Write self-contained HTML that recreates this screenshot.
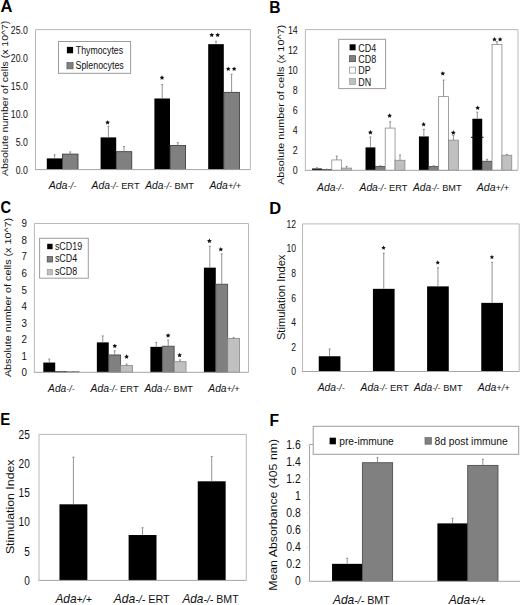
<!DOCTYPE html>
<html><head><meta charset="utf-8"><style>
html,body{margin:0;padding:0;background:#fff;width:520px;height:605px;overflow:hidden}
svg{display:block;font-family:"Liberation Sans", sans-serif}
</style></head><body>
<svg width="520" height="605" viewBox="0 0 520 605">
<rect width="520" height="605" fill="#fff"/>
<text x="0.59" y="12.2" font-size="17.2" text-anchor="start" font-weight="bold" font-style="normal" fill="#000" textLength="11.99" lengthAdjust="spacingAndGlyphs">A</text>
<path d="M35.5,169.6 V29.6 H250.4 V169.6" fill="none" stroke="#b8b8b8" stroke-width="1"/>
<rect x="46.80" y="158.40" width="15.60" height="11.20" fill="#000"/>
<line x1="54.60" y1="158.40" x2="54.60" y2="154.82" stroke="#777" stroke-width="0.8"/>
<line x1="53.60" y1="154.82" x2="55.60" y2="154.82" stroke="#777" stroke-width="0.8"/>
<rect x="100.60" y="137.40" width="15.60" height="32.20" fill="#000"/>
<line x1="108.40" y1="137.40" x2="108.40" y2="126.31" stroke="#777" stroke-width="0.8"/>
<line x1="107.40" y1="126.31" x2="109.40" y2="126.31" stroke="#777" stroke-width="0.8"/>
<rect x="154.40" y="98.48" width="15.60" height="71.12" fill="#000"/>
<line x1="162.20" y1="98.48" x2="162.20" y2="84.42" stroke="#777" stroke-width="0.8"/>
<line x1="161.20" y1="84.42" x2="163.20" y2="84.42" stroke="#777" stroke-width="0.8"/>
<rect x="208.20" y="44.16" width="15.60" height="125.44" fill="#000"/>
<line x1="216.00" y1="44.16" x2="216.00" y2="41.36" stroke="#777" stroke-width="0.8"/>
<line x1="215.00" y1="41.36" x2="217.00" y2="41.36" stroke="#777" stroke-width="0.8"/>
<rect x="62.40" y="154.09" width="15.60" height="15.51" fill="#808080" stroke="#333" stroke-width="0.8"/>
<line x1="70.20" y1="154.09" x2="70.20" y2="151.90" stroke="#777" stroke-width="0.8"/>
<line x1="69.20" y1="151.90" x2="71.20" y2="151.90" stroke="#777" stroke-width="0.8"/>
<rect x="116.20" y="151.68" width="15.60" height="17.92" fill="#808080" stroke="#333" stroke-width="0.8"/>
<line x1="124.00" y1="151.68" x2="124.00" y2="146.47" stroke="#777" stroke-width="0.8"/>
<line x1="123.00" y1="146.47" x2="125.00" y2="146.47" stroke="#777" stroke-width="0.8"/>
<rect x="170.00" y="145.52" width="15.60" height="24.08" fill="#808080" stroke="#333" stroke-width="0.8"/>
<line x1="177.80" y1="145.52" x2="177.80" y2="142.61" stroke="#777" stroke-width="0.8"/>
<line x1="176.80" y1="142.61" x2="178.80" y2="142.61" stroke="#777" stroke-width="0.8"/>
<rect x="223.80" y="92.32" width="15.60" height="77.28" fill="#808080" stroke="#333" stroke-width="0.8"/>
<line x1="231.60" y1="92.32" x2="231.60" y2="74.29" stroke="#777" stroke-width="0.8"/>
<line x1="230.60" y1="74.29" x2="232.60" y2="74.29" stroke="#777" stroke-width="0.8"/>
<line x1="35.00" y1="169.60" x2="250.40" y2="169.60" stroke="#a4a4a4" stroke-width="1"/>
<text x="27.8" y="173.6" font-size="10" text-anchor="end" font-weight="normal" font-style="normal" fill="#111" textLength="12.09" lengthAdjust="spacingAndGlyphs">0.0</text>
<text x="27.8" y="145.6" font-size="10" text-anchor="end" font-weight="normal" font-style="normal" fill="#111" textLength="12.09" lengthAdjust="spacingAndGlyphs">5.0</text>
<text x="27.8" y="117.6" font-size="10" text-anchor="end" font-weight="normal" font-style="normal" fill="#111" textLength="16.93" lengthAdjust="spacingAndGlyphs">10.0</text>
<text x="27.8" y="89.6" font-size="10" text-anchor="end" font-weight="normal" font-style="normal" fill="#111" textLength="16.93" lengthAdjust="spacingAndGlyphs">15.0</text>
<text x="27.8" y="61.599999999999994" font-size="10" text-anchor="end" font-weight="normal" font-style="normal" fill="#111" textLength="16.93" lengthAdjust="spacingAndGlyphs">20.0</text>
<text x="27.8" y="33.599999999999994" font-size="10" text-anchor="end" font-weight="normal" font-style="normal" fill="#111" textLength="16.93" lengthAdjust="spacingAndGlyphs">25.0</text>
<text transform="translate(7.9,98.45) scale(0.86,1) rotate(-90)" x="0" y="0" font-size="10.50" text-anchor="middle" fill="#111">Absolute number of cells (x 10^7)</text>
<rect x="58.50" y="41.50" width="72.10" height="31.80" fill="#fff" stroke="#9c9c9c" stroke-width="1"/>
<rect x="66.90" y="46.90" width="6.20" height="6.40" fill="#000"/>
<text x="75.8" y="53.6" font-size="10" text-anchor="start" font-weight="normal" font-style="normal" fill="#111" textLength="47.3" lengthAdjust="spacingAndGlyphs">Thymocytes</text>
<rect x="66.90" y="62.50" width="6.20" height="6.40" fill="#808080" stroke="#555" stroke-width="0.6"/>
<text x="75.5" y="69.1" font-size="10" text-anchor="start" font-weight="normal" font-style="normal" fill="#111" textLength="48.3" lengthAdjust="spacingAndGlyphs">Splenocytes</text>
<polygon points="107.60,120.15 108.32,121.61 109.93,121.84 108.77,122.98 109.04,124.58 107.60,123.82 106.16,124.58 106.43,122.98 105.27,121.84 106.88,121.61" fill="#111"/>
<polygon points="162.00,75.25 162.72,76.71 164.33,76.94 163.17,78.08 163.44,79.68 162.00,78.92 160.56,79.68 160.83,78.08 159.67,76.94 161.28,76.71" fill="#111"/>
<polygon points="211.75,32.65 212.47,34.11 214.08,34.34 212.92,35.48 213.19,37.08 211.75,36.33 210.31,37.08 210.58,35.48 209.42,34.34 211.03,34.11" fill="#111"/>
<polygon points="217.65,32.65 218.37,34.11 219.98,34.34 218.82,35.48 219.09,37.08 217.65,36.33 216.21,37.08 216.48,35.48 215.32,34.34 216.93,34.11" fill="#111"/>
<polygon points="228.25,66.45 228.97,67.91 230.58,68.14 229.42,69.28 229.69,70.88 228.25,70.12 226.81,70.88 227.08,69.28 225.92,68.14 227.53,67.91" fill="#111"/>
<polygon points="234.15,66.45 234.87,67.91 236.48,68.14 235.32,69.28 235.59,70.88 234.15,70.12 232.71,70.88 232.98,69.28 231.82,68.14 233.43,67.91" fill="#111"/>
<text x="48.7" y="189" font-size="10.8" fill="#111" textLength="27.6" lengthAdjust="spacingAndGlyphs"><tspan font-style="italic">Ada</tspan><tspan font-style="italic" font-size="9.50">-/-</tspan></text>
<text x="91.6" y="189" font-size="10.8" fill="#111" textLength="48" lengthAdjust="spacingAndGlyphs"><tspan font-style="italic">Ada</tspan><tspan font-style="italic" font-size="9.50">-/-</tspan><tspan font-size="9.72"> ERT</tspan></text>
<text x="145.3" y="189" font-size="10.8" fill="#111" textLength="48.7" lengthAdjust="spacingAndGlyphs"><tspan font-style="italic">Ada</tspan><tspan font-style="italic" font-size="9.50">-/-</tspan><tspan font-size="9.72"> BMT</tspan></text>
<text x="209.4" y="189" font-size="10.8" fill="#111" textLength="31.7" lengthAdjust="spacingAndGlyphs"><tspan font-style="italic">Ada</tspan><tspan font-style="italic" font-size="9.50">+/+</tspan></text>
<text x="269.18" y="13.3" font-size="17.2" text-anchor="start" font-weight="bold" font-style="normal" fill="#000" textLength="11.30" lengthAdjust="spacingAndGlyphs">B</text>
<path d="M305.4,170.3 V29.6 H518 V170.3" fill="none" stroke="#b8b8b8" stroke-width="1"/>
<rect x="312.10" y="168.49" width="9.85" height="1.81" fill="#000"/>
<line x1="317.03" y1="168.49" x2="317.03" y2="167.79" stroke="#777" stroke-width="0.8"/>
<line x1="316.03" y1="167.79" x2="318.03" y2="167.79" stroke="#777" stroke-width="0.8"/>
<rect x="365.52" y="147.39" width="9.85" height="22.91" fill="#000"/>
<line x1="370.45" y1="147.39" x2="370.45" y2="137.03" stroke="#777" stroke-width="0.8"/>
<line x1="369.45" y1="137.03" x2="371.45" y2="137.03" stroke="#777" stroke-width="0.8"/>
<rect x="418.94" y="136.43" width="9.85" height="33.87" fill="#000"/>
<line x1="423.87" y1="136.43" x2="423.87" y2="129.40" stroke="#777" stroke-width="0.8"/>
<line x1="422.87" y1="129.40" x2="424.87" y2="129.40" stroke="#777" stroke-width="0.8"/>
<rect x="472.36" y="118.74" width="9.85" height="51.56" fill="#000"/>
<line x1="477.29" y1="118.74" x2="477.29" y2="112.21" stroke="#777" stroke-width="0.8"/>
<line x1="476.29" y1="112.21" x2="478.29" y2="112.21" stroke="#777" stroke-width="0.8"/>
<rect x="321.95" y="169.40" width="9.85" height="0.90" fill="#808080" stroke="#444" stroke-width="0.8"/>
<line x1="326.88" y1="169.40" x2="326.88" y2="169.19" stroke="#777" stroke-width="0.8"/>
<line x1="325.88" y1="169.19" x2="327.88" y2="169.19" stroke="#777" stroke-width="0.8"/>
<rect x="375.37" y="166.38" width="9.85" height="3.92" fill="#808080" stroke="#444" stroke-width="0.8"/>
<line x1="380.30" y1="166.38" x2="380.30" y2="165.78" stroke="#777" stroke-width="0.8"/>
<line x1="379.30" y1="165.78" x2="381.30" y2="165.78" stroke="#777" stroke-width="0.8"/>
<rect x="428.79" y="166.58" width="9.85" height="3.72" fill="#808080" stroke="#444" stroke-width="0.8"/>
<line x1="433.72" y1="166.58" x2="433.72" y2="165.78" stroke="#777" stroke-width="0.8"/>
<line x1="432.72" y1="165.78" x2="434.72" y2="165.78" stroke="#777" stroke-width="0.8"/>
<rect x="482.21" y="161.25" width="9.85" height="9.05" fill="#808080" stroke="#444" stroke-width="0.8"/>
<line x1="487.14" y1="161.25" x2="487.14" y2="159.35" stroke="#777" stroke-width="0.8"/>
<line x1="486.14" y1="159.35" x2="488.14" y2="159.35" stroke="#777" stroke-width="0.8"/>
<rect x="331.80" y="159.95" width="9.85" height="10.35" fill="#fff" stroke="#8a8a8a" stroke-width="0.8"/>
<line x1="336.73" y1="159.95" x2="336.73" y2="156.03" stroke="#777" stroke-width="0.8"/>
<line x1="335.73" y1="156.03" x2="337.73" y2="156.03" stroke="#777" stroke-width="0.8"/>
<rect x="385.22" y="128.09" width="9.85" height="42.21" fill="#fff" stroke="#8a8a8a" stroke-width="0.8"/>
<line x1="390.15" y1="128.09" x2="390.15" y2="121.76" stroke="#777" stroke-width="0.8"/>
<line x1="389.15" y1="121.76" x2="391.15" y2="121.76" stroke="#777" stroke-width="0.8"/>
<rect x="438.64" y="96.63" width="9.85" height="73.67" fill="#fff" stroke="#8a8a8a" stroke-width="0.8"/>
<line x1="443.57" y1="96.63" x2="443.57" y2="80.05" stroke="#777" stroke-width="0.8"/>
<line x1="442.57" y1="80.05" x2="444.57" y2="80.05" stroke="#777" stroke-width="0.8"/>
<rect x="492.06" y="44.37" width="9.85" height="125.93" fill="#fff" stroke="#8a8a8a" stroke-width="0.8"/>
<line x1="496.99" y1="44.37" x2="496.99" y2="41.66" stroke="#777" stroke-width="0.8"/>
<line x1="495.99" y1="41.66" x2="497.99" y2="41.66" stroke="#777" stroke-width="0.8"/>
<rect x="341.65" y="168.09" width="9.85" height="2.21" fill="#c0c0c0" stroke="#888" stroke-width="0.8"/>
<line x1="346.58" y1="168.09" x2="346.58" y2="166.38" stroke="#777" stroke-width="0.8"/>
<line x1="345.58" y1="166.38" x2="347.58" y2="166.38" stroke="#777" stroke-width="0.8"/>
<rect x="395.07" y="160.25" width="9.85" height="10.05" fill="#c0c0c0" stroke="#888" stroke-width="0.8"/>
<line x1="400.00" y1="160.25" x2="400.00" y2="155.02" stroke="#777" stroke-width="0.8"/>
<line x1="399.00" y1="155.02" x2="401.00" y2="155.02" stroke="#777" stroke-width="0.8"/>
<rect x="448.49" y="140.15" width="9.85" height="30.15" fill="#c0c0c0" stroke="#888" stroke-width="0.8"/>
<line x1="453.42" y1="140.15" x2="453.42" y2="135.43" stroke="#777" stroke-width="0.8"/>
<line x1="452.42" y1="135.43" x2="454.42" y2="135.43" stroke="#777" stroke-width="0.8"/>
<rect x="501.91" y="155.23" width="9.85" height="15.07" fill="#c0c0c0" stroke="#888" stroke-width="0.8"/>
<line x1="506.84" y1="155.23" x2="506.84" y2="154.42" stroke="#777" stroke-width="0.8"/>
<line x1="505.84" y1="154.42" x2="507.84" y2="154.42" stroke="#777" stroke-width="0.8"/>
<line x1="304.90" y1="170.30" x2="518.00" y2="170.30" stroke="#a4a4a4" stroke-width="1"/>
<line x1="471.00" y1="137.30" x2="483.50" y2="137.30" stroke="#000" stroke-width="1"/>
<text x="297.8" y="174.40800000000002" font-size="10.3" text-anchor="end" font-weight="normal" font-style="normal" fill="#111" textLength="4.93" lengthAdjust="spacingAndGlyphs">0</text>
<text x="297.8" y="154.30800000000002" font-size="10.3" text-anchor="end" font-weight="normal" font-style="normal" fill="#111" textLength="4.93" lengthAdjust="spacingAndGlyphs">2</text>
<text x="297.8" y="134.20800000000003" font-size="10.3" text-anchor="end" font-weight="normal" font-style="normal" fill="#111" textLength="4.93" lengthAdjust="spacingAndGlyphs">4</text>
<text x="297.8" y="114.108" font-size="10.3" text-anchor="end" font-weight="normal" font-style="normal" fill="#111" textLength="4.93" lengthAdjust="spacingAndGlyphs">6</text>
<text x="297.8" y="94.00800000000001" font-size="10.3" text-anchor="end" font-weight="normal" font-style="normal" fill="#111" textLength="4.93" lengthAdjust="spacingAndGlyphs">8</text>
<text x="297.8" y="73.90800000000002" font-size="10.3" text-anchor="end" font-weight="normal" font-style="normal" fill="#111" textLength="9.85" lengthAdjust="spacingAndGlyphs">10</text>
<text x="297.8" y="53.808" font-size="10.3" text-anchor="end" font-weight="normal" font-style="normal" fill="#111" textLength="9.85" lengthAdjust="spacingAndGlyphs">12</text>
<text x="297.8" y="33.70799999999999" font-size="10.3" text-anchor="end" font-weight="normal" font-style="normal" fill="#111" textLength="9.85" lengthAdjust="spacingAndGlyphs">14</text>
<text transform="translate(283.6,104.90) scale(0.92,1) rotate(-90)" x="0" y="0" font-size="10.81" text-anchor="middle" fill="#111">Absolute number of cells (x 10^7)</text>
<rect x="338.70" y="39.30" width="46.90" height="49.30" fill="#fff" stroke="#9c9c9c" stroke-width="1"/>
<rect x="349.60" y="44.30" width="6.00" height="6.00" fill="#000"/>
<text x="358.2" y="51.5" font-size="10.3" text-anchor="start" font-weight="normal" font-style="normal" fill="#111" textLength="17.93" lengthAdjust="spacingAndGlyphs">CD4</text>
<rect x="349.60" y="55.70" width="6.00" height="6.00" fill="#808080" stroke="#444" stroke-width="0.7"/>
<text x="358.2" y="62.9" font-size="10.3" text-anchor="start" font-weight="normal" font-style="normal" fill="#111" textLength="17.93" lengthAdjust="spacingAndGlyphs">CD8</text>
<rect x="349.60" y="67.10" width="6.00" height="6.00" fill="#fff" stroke="#888" stroke-width="0.7"/>
<text x="358.2" y="74.30000000000001" font-size="10.3" text-anchor="start" font-weight="normal" font-style="normal" fill="#111" textLength="12.45" lengthAdjust="spacingAndGlyphs">DP</text>
<rect x="349.60" y="78.50" width="6.00" height="6.00" fill="#c0c0c0" stroke="#999" stroke-width="0.7"/>
<text x="358.2" y="85.70000000000002" font-size="10.3" text-anchor="start" font-weight="normal" font-style="normal" fill="#111" textLength="12.94" lengthAdjust="spacingAndGlyphs">DN</text>
<polygon points="370.40,130.05 371.12,131.51 372.73,131.74 371.57,132.88 371.84,134.48 370.40,133.72 368.96,134.48 369.23,132.88 368.07,131.74 369.68,131.51" fill="#111"/>
<polygon points="389.60,113.25 390.32,114.71 391.93,114.94 390.77,116.08 391.04,117.68 389.60,116.92 388.16,117.68 388.43,116.08 387.27,114.94 388.88,114.71" fill="#111"/>
<polygon points="423.60,121.95 424.32,123.41 425.93,123.64 424.77,124.78 425.04,126.38 423.60,125.62 422.16,126.38 422.43,124.78 421.27,123.64 422.88,123.41" fill="#111"/>
<polygon points="442.80,71.15 443.52,72.61 445.13,72.84 443.97,73.98 444.24,75.58 442.80,74.82 441.36,75.58 441.63,73.98 440.47,72.84 442.08,72.61" fill="#111"/>
<polygon points="453.30,130.35 454.02,131.81 455.63,132.04 454.47,133.18 454.74,134.78 453.30,134.03 451.86,134.78 452.13,133.18 450.97,132.04 452.58,131.81" fill="#111"/>
<polygon points="477.70,105.45 478.42,106.91 480.03,107.14 478.87,108.28 479.14,109.88 477.70,109.12 476.26,109.88 476.53,108.28 475.37,107.14 476.98,106.91" fill="#111"/>
<polygon points="494.50,36.95 495.22,38.41 496.83,38.64 495.67,39.78 495.94,41.38 494.50,40.62 493.06,41.38 493.33,39.78 492.17,38.64 493.78,38.41" fill="#111"/>
<polygon points="500.10,36.95 500.82,38.41 502.43,38.64 501.27,39.78 501.54,41.38 500.10,40.62 498.66,41.38 498.93,39.78 497.77,38.64 499.38,38.41" fill="#111"/>
<text x="317.1" y="191" font-size="10.8" fill="#111" textLength="26.8" lengthAdjust="spacingAndGlyphs"><tspan font-style="italic">Ada</tspan><tspan font-style="italic" font-size="9.50">-/-</tspan></text>
<text x="359.5" y="191" font-size="10.8" fill="#111" textLength="47.9" lengthAdjust="spacingAndGlyphs"><tspan font-style="italic">Ada</tspan><tspan font-style="italic" font-size="9.50">-/-</tspan><tspan font-size="9.72"> ERT</tspan></text>
<text x="413" y="191" font-size="10.8" fill="#111" textLength="48.5" lengthAdjust="spacingAndGlyphs"><tspan font-style="italic">Ada</tspan><tspan font-style="italic" font-size="9.50">-/-</tspan><tspan font-size="9.72"> BMT</tspan></text>
<text x="476.7" y="191" font-size="10.8" fill="#111" textLength="32.3" lengthAdjust="spacingAndGlyphs"><tspan font-style="italic">Ada</tspan><tspan font-style="italic" font-size="9.50">+/+</tspan></text>
<text x="0.62" y="212.9" font-size="17.2" text-anchor="start" font-weight="bold" font-style="normal" fill="#000" textLength="10.56" lengthAdjust="spacingAndGlyphs">C</text>
<path d="M34.4,372.3 V223.5 H248.5 V372.3" fill="none" stroke="#b8b8b8" stroke-width="1"/>
<rect x="43.32" y="362.55" width="11.89" height="9.75" fill="#000"/>
<line x1="49.27" y1="362.55" x2="49.27" y2="359.07" stroke="#777" stroke-width="0.8"/>
<line x1="48.27" y1="359.07" x2="50.27" y2="359.07" stroke="#777" stroke-width="0.8"/>
<rect x="96.85" y="342.37" width="11.89" height="29.93" fill="#000"/>
<line x1="102.79" y1="342.37" x2="102.79" y2="335.93" stroke="#777" stroke-width="0.8"/>
<line x1="101.79" y1="335.93" x2="103.79" y2="335.93" stroke="#777" stroke-width="0.8"/>
<rect x="150.37" y="346.84" width="11.89" height="25.46" fill="#000"/>
<line x1="156.32" y1="346.84" x2="156.32" y2="342.54" stroke="#777" stroke-width="0.8"/>
<line x1="155.32" y1="342.54" x2="157.32" y2="342.54" stroke="#777" stroke-width="0.8"/>
<rect x="203.90" y="267.64" width="11.89" height="104.66" fill="#000"/>
<line x1="209.84" y1="267.64" x2="209.84" y2="246.32" stroke="#777" stroke-width="0.8"/>
<line x1="208.84" y1="246.32" x2="210.84" y2="246.32" stroke="#777" stroke-width="0.8"/>
<rect x="55.22" y="371.47" width="11.89" height="0.83" fill="#808080" stroke="#444" stroke-width="0.8"/>
<line x1="61.16" y1="371.47" x2="61.16" y2="371.31" stroke="#777" stroke-width="0.8"/>
<line x1="60.16" y1="371.31" x2="62.16" y2="371.31" stroke="#777" stroke-width="0.8"/>
<rect x="108.74" y="354.94" width="11.89" height="17.36" fill="#808080" stroke="#444" stroke-width="0.8"/>
<line x1="114.69" y1="354.94" x2="114.69" y2="350.81" stroke="#777" stroke-width="0.8"/>
<line x1="113.69" y1="350.81" x2="115.69" y2="350.81" stroke="#777" stroke-width="0.8"/>
<rect x="162.27" y="346.18" width="11.89" height="26.12" fill="#808080" stroke="#444" stroke-width="0.8"/>
<line x1="168.21" y1="346.18" x2="168.21" y2="340.23" stroke="#777" stroke-width="0.8"/>
<line x1="167.21" y1="340.23" x2="169.21" y2="340.23" stroke="#777" stroke-width="0.8"/>
<rect x="215.79" y="284.18" width="11.89" height="88.12" fill="#808080" stroke="#444" stroke-width="0.8"/>
<line x1="221.74" y1="284.18" x2="221.74" y2="253.92" stroke="#777" stroke-width="0.8"/>
<line x1="220.74" y1="253.92" x2="222.74" y2="253.92" stroke="#777" stroke-width="0.8"/>
<rect x="67.11" y="371.47" width="11.89" height="0.83" fill="#c0c0c0" stroke="#888" stroke-width="0.8"/>
<line x1="73.06" y1="371.47" x2="73.06" y2="371.47" stroke="#777" stroke-width="0.8"/>
<line x1="72.06" y1="371.47" x2="74.06" y2="371.47" stroke="#777" stroke-width="0.8"/>
<rect x="120.63" y="365.52" width="11.89" height="6.78" fill="#c0c0c0" stroke="#888" stroke-width="0.8"/>
<line x1="126.58" y1="365.52" x2="126.58" y2="364.03" stroke="#777" stroke-width="0.8"/>
<line x1="125.58" y1="364.03" x2="127.58" y2="364.03" stroke="#777" stroke-width="0.8"/>
<rect x="174.16" y="361.72" width="11.89" height="10.58" fill="#c0c0c0" stroke="#888" stroke-width="0.8"/>
<line x1="180.11" y1="361.72" x2="180.11" y2="359.90" stroke="#777" stroke-width="0.8"/>
<line x1="179.11" y1="359.90" x2="181.11" y2="359.90" stroke="#777" stroke-width="0.8"/>
<rect x="227.68" y="338.57" width="11.89" height="33.73" fill="#c0c0c0" stroke="#888" stroke-width="0.8"/>
<line x1="233.63" y1="338.57" x2="233.63" y2="337.58" stroke="#777" stroke-width="0.8"/>
<line x1="232.63" y1="337.58" x2="234.63" y2="337.58" stroke="#777" stroke-width="0.8"/>
<line x1="33.90" y1="372.30" x2="248.50" y2="372.30" stroke="#a4a4a4" stroke-width="1"/>
<text x="27.0" y="376.208" font-size="10.3" text-anchor="end" font-weight="normal" font-style="normal" fill="#111" textLength="5.44" lengthAdjust="spacingAndGlyphs">0</text>
<text x="27.0" y="359.67466666666667" font-size="10.3" text-anchor="end" font-weight="normal" font-style="normal" fill="#111" textLength="5.44" lengthAdjust="spacingAndGlyphs">1</text>
<text x="27.0" y="343.14133333333336" font-size="10.3" text-anchor="end" font-weight="normal" font-style="normal" fill="#111" textLength="5.44" lengthAdjust="spacingAndGlyphs">2</text>
<text x="27.0" y="326.608" font-size="10.3" text-anchor="end" font-weight="normal" font-style="normal" fill="#111" textLength="5.44" lengthAdjust="spacingAndGlyphs">3</text>
<text x="27.0" y="310.0746666666667" font-size="10.3" text-anchor="end" font-weight="normal" font-style="normal" fill="#111" textLength="5.44" lengthAdjust="spacingAndGlyphs">4</text>
<text x="27.0" y="293.54133333333334" font-size="10.3" text-anchor="end" font-weight="normal" font-style="normal" fill="#111" textLength="5.44" lengthAdjust="spacingAndGlyphs">5</text>
<text x="27.0" y="277.00800000000004" font-size="10.3" text-anchor="end" font-weight="normal" font-style="normal" fill="#111" textLength="5.44" lengthAdjust="spacingAndGlyphs">6</text>
<text x="27.0" y="260.4746666666667" font-size="10.3" text-anchor="end" font-weight="normal" font-style="normal" fill="#111" textLength="5.44" lengthAdjust="spacingAndGlyphs">7</text>
<text x="27.0" y="243.94133333333332" font-size="10.3" text-anchor="end" font-weight="normal" font-style="normal" fill="#111" textLength="5.44" lengthAdjust="spacingAndGlyphs">8</text>
<text x="27.0" y="227.408" font-size="10.3" text-anchor="end" font-weight="normal" font-style="normal" fill="#111" textLength="5.44" lengthAdjust="spacingAndGlyphs">9</text>
<text transform="translate(10.7,297.55) scale(0.9,1) rotate(-90)" x="0" y="0" font-size="10.76" text-anchor="middle" fill="#111">Absolute number of cells (x 10^7)</text>
<rect x="39.60" y="238.30" width="48.70" height="39.90" fill="#fff" stroke="#9c9c9c" stroke-width="1"/>
<rect x="47.20" y="243.80" width="5.40" height="5.40" fill="#000"/>
<text x="54.9" y="249.5" font-size="10" text-anchor="start" font-weight="normal" font-style="normal" fill="#111" textLength="27.20" lengthAdjust="spacingAndGlyphs">sCD19</text>
<rect x="47.20" y="256.60" width="5.40" height="5.40" fill="#808080" stroke="#444" stroke-width="0.7"/>
<text x="54.9" y="262.3" font-size="10" text-anchor="start" font-weight="normal" font-style="normal" fill="#111" textLength="22.25" lengthAdjust="spacingAndGlyphs">sCD4</text>
<rect x="47.20" y="269.40" width="5.40" height="5.40" fill="#c0c0c0" stroke="#999" stroke-width="0.7"/>
<text x="54.9" y="275.1" font-size="10" text-anchor="start" font-weight="normal" font-style="normal" fill="#111" textLength="22.25" lengthAdjust="spacingAndGlyphs">sCD8</text>
<polygon points="114.80,343.65 115.52,345.11 117.13,345.34 115.97,346.48 116.24,348.08 114.80,347.33 113.36,348.08 113.63,346.48 112.47,345.34 114.08,345.11" fill="#111"/>
<polygon points="126.60,354.25 127.32,355.71 128.93,355.94 127.77,357.08 128.04,358.68 126.60,357.93 125.16,358.68 125.43,357.08 124.27,355.94 125.88,355.71" fill="#111"/>
<polygon points="168.10,333.15 168.82,334.61 170.43,334.84 169.27,335.98 169.54,337.58 168.10,336.83 166.66,337.58 166.93,335.98 165.77,334.84 167.38,334.61" fill="#111"/>
<polygon points="179.60,352.75 180.32,354.21 181.93,354.44 180.77,355.58 181.04,357.18 179.60,356.43 178.16,357.18 178.43,355.58 177.27,354.44 178.88,354.21" fill="#111"/>
<polygon points="209.40,238.55 210.12,240.01 211.73,240.24 210.57,241.38 210.84,242.98 209.40,242.22 207.96,242.98 208.23,241.38 207.07,240.24 208.68,240.01" fill="#111"/>
<polygon points="220.80,246.95 221.52,248.41 223.13,248.64 221.97,249.78 222.24,251.38 220.80,250.62 219.36,251.38 219.63,249.78 218.47,248.64 220.08,248.41" fill="#111"/>
<text x="48.1" y="391.6" font-size="10.8" fill="#111" textLength="26.6" lengthAdjust="spacingAndGlyphs"><tspan font-style="italic">Ada</tspan><tspan font-style="italic" font-size="9.50">-/-</tspan></text>
<text x="90.5" y="391.6" font-size="10.8" fill="#111" textLength="48.1" lengthAdjust="spacingAndGlyphs"><tspan font-style="italic">Ada</tspan><tspan font-style="italic" font-size="9.50">-/-</tspan><tspan font-size="9.72"> ERT</tspan></text>
<text x="144.4" y="391.6" font-size="10.8" fill="#111" textLength="48.5" lengthAdjust="spacingAndGlyphs"><tspan font-style="italic">Ada</tspan><tspan font-style="italic" font-size="9.50">-/-</tspan><tspan font-size="9.72"> BMT</tspan></text>
<text x="208.3" y="391.6" font-size="10.8" fill="#111" textLength="31.3" lengthAdjust="spacingAndGlyphs"><tspan font-style="italic">Ada</tspan><tspan font-style="italic" font-size="9.50">+/+</tspan></text>
<text x="269.13" y="213.6" font-size="17.2" text-anchor="start" font-weight="bold" font-style="normal" fill="#000" textLength="11.92" lengthAdjust="spacingAndGlyphs">D</text>
<path d="M302.5,371.5 V223.9 H519.2 V371.5" fill="none" stroke="#b8b8b8" stroke-width="1"/>
<rect x="318.75" y="356.25" width="21.67" height="15.25" fill="#000"/>
<line x1="329.59" y1="356.25" x2="329.59" y2="348.99" stroke="#777" stroke-width="0.8"/>
<line x1="328.59" y1="348.99" x2="330.59" y2="348.99" stroke="#777" stroke-width="0.8"/>
<rect x="372.93" y="288.84" width="21.67" height="82.66" fill="#000"/>
<line x1="383.76" y1="288.84" x2="383.76" y2="253.05" stroke="#777" stroke-width="0.8"/>
<line x1="382.76" y1="253.05" x2="384.76" y2="253.05" stroke="#777" stroke-width="0.8"/>
<rect x="427.10" y="286.38" width="21.67" height="85.12" fill="#000"/>
<line x1="437.94" y1="286.38" x2="437.94" y2="267.81" stroke="#777" stroke-width="0.8"/>
<line x1="436.94" y1="267.81" x2="438.94" y2="267.81" stroke="#777" stroke-width="0.8"/>
<rect x="481.28" y="302.87" width="21.67" height="68.63" fill="#000"/>
<line x1="492.11" y1="302.87" x2="492.11" y2="262.28" stroke="#777" stroke-width="0.8"/>
<line x1="491.11" y1="262.28" x2="493.11" y2="262.28" stroke="#777" stroke-width="0.8"/>
<line x1="302.00" y1="371.50" x2="519.20" y2="371.50" stroke="#a4a4a4" stroke-width="1"/>
<text x="296.0" y="375.40000000000003" font-size="10" text-anchor="end" font-weight="normal" font-style="normal" fill="#111" textLength="4.78" lengthAdjust="spacingAndGlyphs">0</text>
<text x="296.0" y="350.8" font-size="10" text-anchor="end" font-weight="normal" font-style="normal" fill="#111" textLength="4.78" lengthAdjust="spacingAndGlyphs">2</text>
<text x="296.0" y="326.20000000000005" font-size="10" text-anchor="end" font-weight="normal" font-style="normal" fill="#111" textLength="4.78" lengthAdjust="spacingAndGlyphs">4</text>
<text x="296.0" y="301.6" font-size="10" text-anchor="end" font-weight="normal" font-style="normal" fill="#111" textLength="4.78" lengthAdjust="spacingAndGlyphs">6</text>
<text x="296.0" y="277.00000000000006" font-size="10" text-anchor="end" font-weight="normal" font-style="normal" fill="#111" textLength="4.78" lengthAdjust="spacingAndGlyphs">8</text>
<text x="296.0" y="252.4" font-size="10" text-anchor="end" font-weight="normal" font-style="normal" fill="#111" textLength="9.57" lengthAdjust="spacingAndGlyphs">10</text>
<text x="296.0" y="227.8" font-size="10" text-anchor="end" font-weight="normal" font-style="normal" fill="#111" textLength="9.57" lengthAdjust="spacingAndGlyphs">12</text>
<text transform="translate(284.6,297.35) scale(0.9,1) rotate(-90)" x="0" y="0" font-size="11.16" text-anchor="middle" fill="#111">Stimulation Index</text>
<polygon points="383.56,245.60 384.22,246.94 385.70,247.16 384.63,248.20 384.89,249.67 383.56,248.98 382.24,249.67 382.49,248.20 381.42,247.16 382.90,246.94" fill="#111"/>
<polygon points="437.74,260.36 438.40,261.70 439.88,261.92 438.81,262.96 439.06,264.43 437.74,263.74 436.41,264.43 436.67,262.96 435.60,261.92 437.08,261.70" fill="#111"/>
<polygon points="491.91,254.83 492.57,256.17 494.05,256.38 492.98,257.42 493.24,258.90 491.91,258.20 490.59,258.90 490.84,257.42 489.77,256.38 491.25,256.17" fill="#111"/>
<text x="317.7" y="391.2" font-size="10.8" fill="#111" textLength="27" lengthAdjust="spacingAndGlyphs"><tspan font-style="italic">Ada</tspan><tspan font-style="italic" font-size="9.50">-/-</tspan></text>
<text x="360.5" y="391.2" font-size="10.8" fill="#111" textLength="48.1" lengthAdjust="spacingAndGlyphs"><tspan font-style="italic">Ada</tspan><tspan font-style="italic" font-size="9.50">-/-</tspan><tspan font-size="9.72"> ERT</tspan></text>
<text x="414" y="391.2" font-size="10.8" fill="#111" textLength="48.5" lengthAdjust="spacingAndGlyphs"><tspan font-style="italic">Ada</tspan><tspan font-style="italic" font-size="9.50">-/-</tspan><tspan font-size="9.72"> BMT</tspan></text>
<text x="477.7" y="391.2" font-size="10.8" fill="#111" textLength="31.9" lengthAdjust="spacingAndGlyphs"><tspan font-style="italic">Ada</tspan><tspan font-style="italic" font-size="9.50">+/+</tspan></text>
<text x="0.23" y="425.2" font-size="17.2" text-anchor="start" font-weight="bold" font-style="normal" fill="#000" textLength="9.98" lengthAdjust="spacingAndGlyphs">E</text>
<path d="M39,580.4 V434.4 H246.3 V580.4" fill="none" stroke="#b8b8b8" stroke-width="1"/>
<rect x="59.45" y="504.30" width="27.90" height="76.10" fill="#000"/>
<line x1="73.40" y1="504.30" x2="73.40" y2="457.18" stroke="#777" stroke-width="0.8"/>
<line x1="72.40" y1="457.18" x2="74.40" y2="457.18" stroke="#777" stroke-width="0.8"/>
<rect x="128.60" y="535.02" width="27.90" height="45.38" fill="#000"/>
<line x1="142.55" y1="535.02" x2="142.55" y2="527.72" stroke="#777" stroke-width="0.8"/>
<line x1="141.55" y1="527.72" x2="143.55" y2="527.72" stroke="#777" stroke-width="0.8"/>
<rect x="197.75" y="481.30" width="27.90" height="99.10" fill="#000"/>
<line x1="211.70" y1="481.30" x2="211.70" y2="456.59" stroke="#777" stroke-width="0.8"/>
<line x1="210.70" y1="456.59" x2="212.70" y2="456.59" stroke="#777" stroke-width="0.8"/>
<line x1="38.50" y1="580.40" x2="246.30" y2="580.40" stroke="#a4a4a4" stroke-width="1"/>
<text x="29.8" y="584.784" font-size="11.9" text-anchor="end" font-weight="normal" font-style="normal" fill="#111" textLength="5.59" lengthAdjust="spacingAndGlyphs">0</text>
<text x="29.8" y="555.584" font-size="11.9" text-anchor="end" font-weight="normal" font-style="normal" fill="#111" textLength="5.59" lengthAdjust="spacingAndGlyphs">5</text>
<text x="29.8" y="526.384" font-size="11.9" text-anchor="end" font-weight="normal" font-style="normal" fill="#111" textLength="11.19" lengthAdjust="spacingAndGlyphs">10</text>
<text x="29.8" y="497.18399999999997" font-size="11.9" text-anchor="end" font-weight="normal" font-style="normal" fill="#111" textLength="11.19" lengthAdjust="spacingAndGlyphs">15</text>
<text x="29.8" y="467.984" font-size="11.9" text-anchor="end" font-weight="normal" font-style="normal" fill="#111" textLength="11.19" lengthAdjust="spacingAndGlyphs">20</text>
<text x="29.8" y="438.784" font-size="11.9" text-anchor="end" font-weight="normal" font-style="normal" fill="#111" textLength="11.19" lengthAdjust="spacingAndGlyphs">25</text>
<text transform="translate(13.8,506.80) scale(0.95,1) rotate(-90)" x="0" y="0" font-size="12.35" text-anchor="middle" fill="#111">Stimulation Index</text>
<text x="55.4" y="603.4" font-size="12.2" fill="#111" textLength="36.4" lengthAdjust="spacingAndGlyphs"><tspan font-style="italic">Ada</tspan><tspan font-style="italic" font-size="10.74">+/+</tspan></text>
<text x="113.7" y="603.4" font-size="12.2" fill="#111" textLength="56" lengthAdjust="spacingAndGlyphs"><tspan font-style="italic">Ada</tspan><tspan font-style="italic" font-size="10.74">-/-</tspan><tspan font-size="10.98"> ERT</tspan></text>
<text x="182.4" y="603.4" font-size="12.2" fill="#111" textLength="56.3" lengthAdjust="spacingAndGlyphs"><tspan font-style="italic">Ada</tspan><tspan font-style="italic" font-size="10.74">-/-</tspan><tspan font-size="10.98"> BMT</tspan></text>
<text x="269.38" y="426.1" font-size="17.2" text-anchor="start" font-weight="bold" font-style="normal" fill="#000" textLength="9.56" lengthAdjust="spacingAndGlyphs">F</text>
<rect x="332.05" y="563.84" width="30.30" height="17.46" fill="#000"/>
<line x1="347.20" y1="563.84" x2="347.20" y2="558.30" stroke="#777" stroke-width="0.8"/>
<line x1="346.20" y1="558.30" x2="348.20" y2="558.30" stroke="#777" stroke-width="0.8"/>
<rect x="437.40" y="523.37" width="30.30" height="57.93" fill="#000"/>
<line x1="452.55" y1="523.37" x2="452.55" y2="518.26" stroke="#777" stroke-width="0.8"/>
<line x1="451.55" y1="518.26" x2="453.55" y2="518.26" stroke="#777" stroke-width="0.8"/>
<rect x="362.35" y="462.72" width="30.30" height="118.58" fill="#808080" stroke="#444" stroke-width="0.8"/>
<line x1="377.50" y1="462.72" x2="377.50" y2="457.61" stroke="#777" stroke-width="0.8"/>
<line x1="376.50" y1="457.61" x2="378.50" y2="457.61" stroke="#777" stroke-width="0.8"/>
<rect x="467.70" y="465.36" width="30.30" height="115.94" fill="#808080" stroke="#444" stroke-width="0.8"/>
<line x1="482.85" y1="465.36" x2="482.85" y2="459.31" stroke="#777" stroke-width="0.8"/>
<line x1="481.85" y1="459.31" x2="483.85" y2="459.31" stroke="#777" stroke-width="0.8"/>
<line x1="309.00" y1="581.30" x2="521.00" y2="581.30" stroke="#a4a4a4" stroke-width="1"/>
<line x1="309.50" y1="444.20" x2="309.50" y2="581.30" stroke="#a4a4a4" stroke-width="1"/>
<line x1="309.50" y1="444.50" x2="313.20" y2="444.50" stroke="#a4a4a4" stroke-width="1"/>
<text x="300.7" y="585.284" font-size="11.9" text-anchor="end" font-weight="normal" font-style="normal" fill="#111" textLength="5.79" lengthAdjust="spacingAndGlyphs">0</text>
<text x="300.7" y="568.2465" font-size="11.9" text-anchor="end" font-weight="normal" font-style="normal" fill="#111" textLength="14.48" lengthAdjust="spacingAndGlyphs">0.2</text>
<text x="300.7" y="551.209" font-size="11.9" text-anchor="end" font-weight="normal" font-style="normal" fill="#111" textLength="14.48" lengthAdjust="spacingAndGlyphs">0.4</text>
<text x="300.7" y="534.1715" font-size="11.9" text-anchor="end" font-weight="normal" font-style="normal" fill="#111" textLength="14.48" lengthAdjust="spacingAndGlyphs">0.6</text>
<text x="300.7" y="517.134" font-size="11.9" text-anchor="end" font-weight="normal" font-style="normal" fill="#111" textLength="14.48" lengthAdjust="spacingAndGlyphs">0.8</text>
<text x="300.7" y="500.09649999999993" font-size="11.9" text-anchor="end" font-weight="normal" font-style="normal" fill="#111" textLength="5.79" lengthAdjust="spacingAndGlyphs">1</text>
<text x="300.7" y="483.05899999999997" font-size="11.9" text-anchor="end" font-weight="normal" font-style="normal" fill="#111" textLength="14.48" lengthAdjust="spacingAndGlyphs">1.2</text>
<text x="300.7" y="466.0215" font-size="11.9" text-anchor="end" font-weight="normal" font-style="normal" fill="#111" textLength="14.48" lengthAdjust="spacingAndGlyphs">1.4</text>
<text x="300.7" y="448.984" font-size="11.9" text-anchor="end" font-weight="normal" font-style="normal" fill="#111" textLength="14.48" lengthAdjust="spacingAndGlyphs">1.6</text>
<line x1="306.50" y1="581.30" x2="309.50" y2="581.30" stroke="#e4e4e4" stroke-width="0.8"/>
<line x1="306.50" y1="564.26" x2="309.50" y2="564.26" stroke="#e4e4e4" stroke-width="0.8"/>
<line x1="306.50" y1="547.22" x2="309.50" y2="547.22" stroke="#e4e4e4" stroke-width="0.8"/>
<line x1="306.50" y1="530.19" x2="309.50" y2="530.19" stroke="#e4e4e4" stroke-width="0.8"/>
<line x1="306.50" y1="513.15" x2="309.50" y2="513.15" stroke="#e4e4e4" stroke-width="0.8"/>
<line x1="306.50" y1="496.11" x2="309.50" y2="496.11" stroke="#e4e4e4" stroke-width="0.8"/>
<line x1="306.50" y1="479.07" x2="309.50" y2="479.07" stroke="#e4e4e4" stroke-width="0.8"/>
<line x1="306.50" y1="462.04" x2="309.50" y2="462.04" stroke="#e4e4e4" stroke-width="0.8"/>
<line x1="306.50" y1="445.00" x2="309.50" y2="445.00" stroke="#e4e4e4" stroke-width="0.8"/>
<text transform="translate(277,514.90) scale(0.93,1) rotate(-90)" x="0" y="0" font-size="12.33" text-anchor="middle" fill="#111">Mean Absorbance (405 nm)</text>
<rect x="313.20" y="426.30" width="205.50" height="28.00" fill="#fff" stroke="#9c9c9c" stroke-width="1"/>
<rect x="329.60" y="437.70" width="6.30" height="6.60" fill="#000"/>
<text x="339.2" y="444.9" font-size="11" text-anchor="start" font-weight="normal" font-style="normal" fill="#111" textLength="54.6" lengthAdjust="spacingAndGlyphs">pre-immune</text>
<rect x="425.00" y="437.60" width="6.40" height="6.60" fill="#808080" stroke="#555" stroke-width="0.6"/>
<text x="434.5" y="444.9" font-size="11" text-anchor="start" font-weight="normal" font-style="normal" fill="#111" textLength="73.2" lengthAdjust="spacingAndGlyphs">8d post immune</text>
<text x="332.9" y="603.6" font-size="12.2" fill="#111" textLength="57" lengthAdjust="spacingAndGlyphs"><tspan font-style="italic">Ada</tspan><tspan font-style="italic" font-size="10.74">-/-</tspan><tspan font-size="10.98"> BMT</tspan></text>
<text x="448.7" y="603.6" font-size="12.2" fill="#111" textLength="36.9" lengthAdjust="spacingAndGlyphs"><tspan font-style="italic">Ada</tspan><tspan font-style="italic" font-size="10.74">+/+</tspan></text>
</svg>
</body></html>
